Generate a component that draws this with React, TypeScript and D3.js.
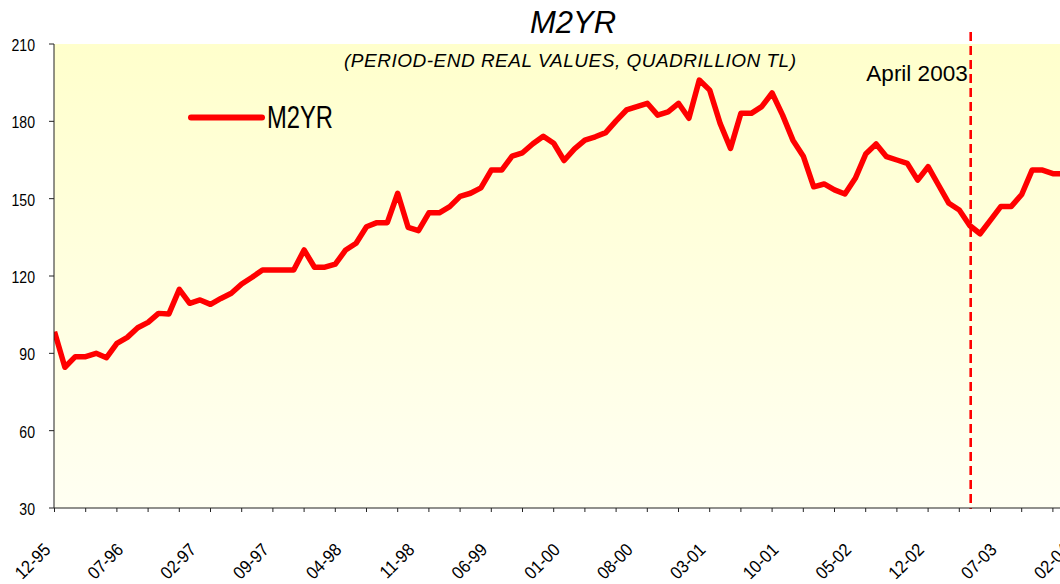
import React from "react";
import * as d3 from "d3";

// Monthly M2YR values, Dec 1995 (index 0) ... Feb 2004 (index 98)
const m2yr: number[] = [
  98.4, 84.6, 88.7, 88.7, 90.0, 88.3, 93.9, 96.2, 99.9, 102.0,
  105.5, 105.3, 114.8, 109.4, 110.7, 109.0, 111.3, 113.3, 116.9, 119.5,
  122.3, 122.3, 122.3, 122.3, 130.1, 123.4, 123.4, 124.6, 130.1, 132.7,
  139.1, 140.7, 140.7, 152.1, 138.9, 137.6, 144.5, 144.5, 146.9, 150.9,
  152.1, 154.2, 161.1, 161.1, 166.5, 167.8, 171.3, 174.2, 171.5, 164.8,
  169.3, 172.7, 174.0, 175.6, 180.2, 184.4, 185.7, 187.0, 182.4, 183.7,
  187.0, 181.2, 196.0, 192.1, 179.2, 169.5, 183.1, 183.1, 185.7, 191.0,
  182.5, 172.7, 166.5, 154.6, 155.7, 153.4, 151.8, 157.9, 167.3, 171.2,
  166.3, 165.0, 163.7, 157.2, 162.4, 155.3, 148.2, 145.6, 139.6, 136.4,
  141.7, 147.0, 147.0, 151.6, 161.1, 161.1, 159.7, 159.6, 158.0,
];

const xTickLabels: string[] = [
  "12-95", "07-96", "02-97", "09-97", "04-98", "11-98", "06-99", "01-00",
  "08-00", "03-01", "10-01", "05-02", "12-02", "07-03", "02-04",
];
const labelEvery = 7;
const tickEvery = 3;
const yTicks: number[] = [30, 60, 90, 120, 150, 180, 210];

const seriesName = "M2YR";
const title = "M2YR";
const subtitle = "(PERIOD-END REAL VALUES, QUADRILLION TL)";
const markerIndex = 88; // April 2003
const markerLabel = "April 2003";

const W = 1060;
const H = 584;
const plotLeft = 54;
const plotTop = 44;
const plotBottom = 508;
const step = 10.4;

const FONT = "'Liberation Sans', Arial, Helvetica, sans-serif";

export default function App() {
  const n = m2yr.length;
  const x = d3
    .scaleLinear()
    .domain([0, n - 1])
    .range([plotLeft + 0.5, plotLeft + 0.5 + step * (n - 1)]);
  const y = d3.scaleLinear().domain([30, 210]).range([plotBottom, plotTop]);

  const line = d3
    .line<number>()
    .x((_, i) => x(i))
    .y((d) => y(d));

  const minorTicks = d3.range(0, n, tickEvery);
  const mx = x(markerIndex) + 1;

  return (
    <svg
      width={W}
      height={H}
      viewBox={`0 0 ${W} ${H}`}
      style={{ position: "absolute", left: 0, top: 0, display: "block", background: "#fff" }}
      fontFamily={FONT}
    >
      <defs>
        <linearGradient id="bg" x1="0" y1="0" x2="0" y2="1">
          <stop offset="0%" stopColor="#FFFFCC" />
          <stop offset="100%" stopColor="#FFFFF2" />
        </linearGradient>
        <clipPath id="plotClip">
          <rect x={plotLeft} y={plotTop - 20} width={W - plotLeft} height={plotBottom - plotTop + 20} />
        </clipPath>
      </defs>

      <rect x={plotLeft} y={plotTop} width={W - plotLeft} height={plotBottom - plotTop} fill="url(#bg)" />

      {/* title */}
      <text x={573} y={33} textAnchor="middle" fontSize={31} fontStyle="italic" fill="#000">
        {title}
      </text>
      <text
        x={570}
        y={67}
        textAnchor="middle"
        fontSize={19}
        fontStyle="italic"
        fill="#000"
        textLength={452}
        lengthAdjust="spacing"
      >
        {subtitle}
      </text>

      {/* marker */}
      <line
        x1={mx}
        x2={mx}
        y1={32}
        y2={plotBottom + 1}
        stroke="#FF0000"
        strokeWidth={2.6}
        strokeDasharray="9,5"
      />
      <text x={mx - 3} y={81} textAnchor="end" fontSize={22.5} fill="#000">
        {markerLabel}
      </text>

      {/* series */}
      <g clipPath="url(#plotClip)">
        <path
          d={line(m2yr) || ""}
          fill="none"
          stroke="#FF0000"
          strokeWidth={5.5}
          strokeLinejoin="round"
        />
      </g>

      {/* legend */}
      <line x1={191} x2={262} y1={117.5} y2={117.5} stroke="#FF0000" strokeWidth={6} strokeLinecap="round" />
      <text x={267} y={128} fontSize={31} fill="#000" textLength={66} lengthAdjust="spacingAndGlyphs">
        {seriesName}
      </text>

      {/* axes */}
      <line x1={plotLeft} x2={plotLeft} y1={plotTop} y2={plotBottom} stroke="#222" strokeWidth={1} />
      <line x1={plotLeft} x2={W} y1={plotBottom} y2={plotBottom} stroke="#222" strokeWidth={1} />

      {yTicks.map((t) => (
        <g key={t}>
          <line x1={plotLeft - 5} x2={plotLeft} y1={y(t)} y2={y(t)} stroke="#222" />
          <text
            transform={`translate(${35},${y(t) + 7}) scale(0.88,1)`}
            textAnchor="end"
            fontSize={16}
            fill="#000"
          >
            {t}
          </text>
        </g>
      ))}

      {minorTicks.map((i) => (
        <line key={i} x1={x(i)} x2={x(i)} y1={plotBottom} y2={plotBottom + 4} stroke="#222" />
      ))}

      {xTickLabels.map((lab, k) => {
        const xi = x(k * labelEvery);
        return (
          <text
            key={lab}
            transform={`translate(${xi - 3},${551}) rotate(-45) scale(0.9,1)`}
            textAnchor="end"
            fontSize={18}
            fill="#000"
          >
            {lab}
          </text>
        );
      })}
    </svg>
  );
}
